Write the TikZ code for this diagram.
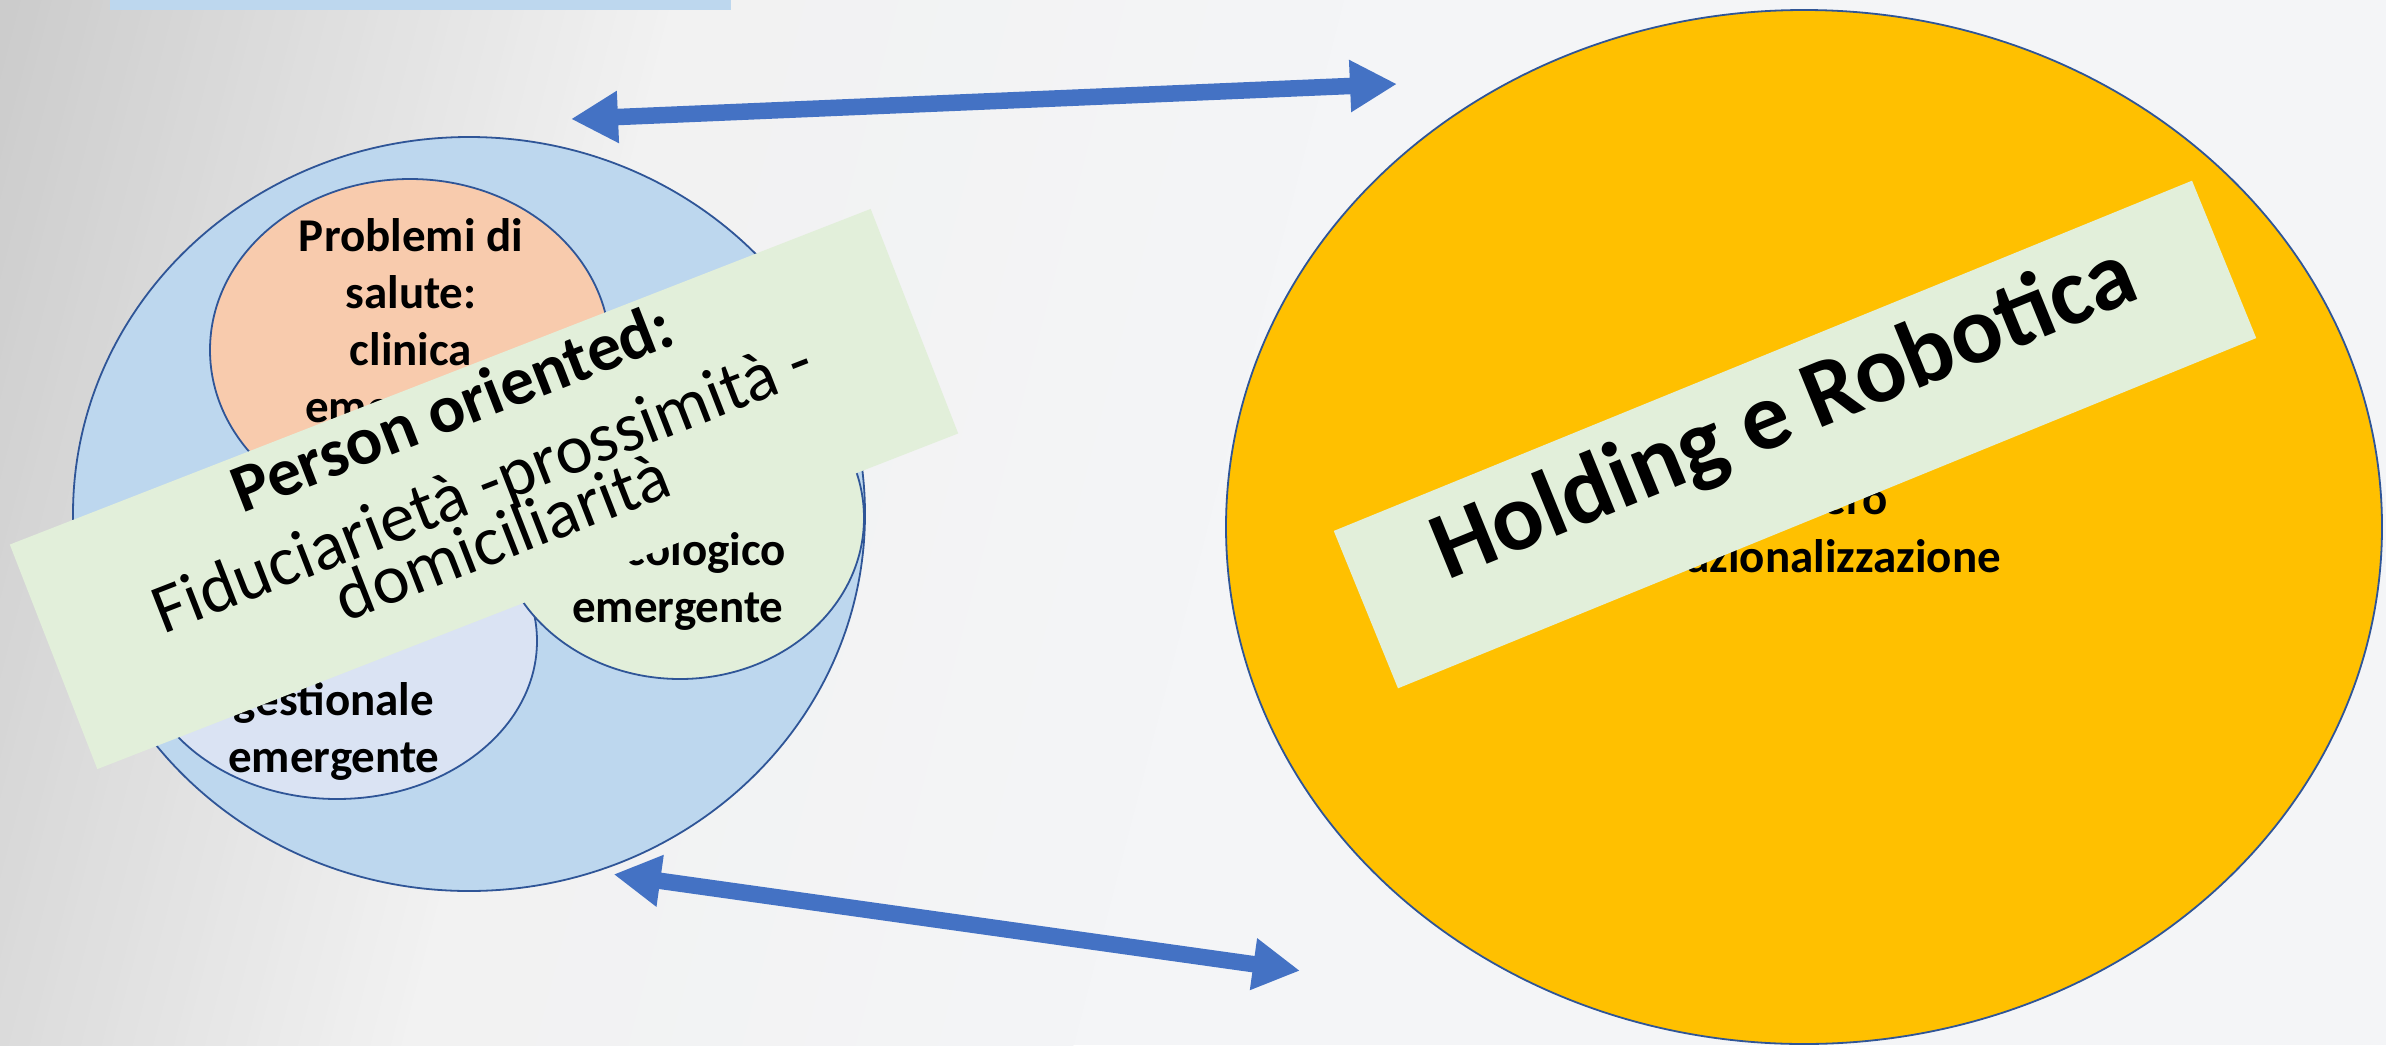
\documentclass[tikz,border=0pt]{standalone}
\usepackage{fontspec}
\setmainfont{Carlito}
\usetikzlibrary{shapes.geometric,arrows.meta}
\definecolor{cblue}{HTML}{BDD7EE}
\definecolor{corange}{HTML}{F8CBAD}
\definecolor{clav}{HTML}{DAE3F3}
\definecolor{cgreen}{HTML}{E2EFDA}
\definecolor{cyellow}{HTML}{FFC000}
\definecolor{edgeblue}{HTML}{2F5597}
\definecolor{arrowblue}{HTML}{4472C4}
\definecolor{bgright}{HTML}{F4F5F7}
\begin{document}
\begin{tikzpicture}[x=1pt,y=-1pt,
  ell/.style={ellipse, draw=edgeblue, line width=1.8pt, inner sep=0pt},
  lbl/.style={font=\fontsize{47}{57}\selectfont\bfseries, anchor=base, inner sep=0pt, text=black},
  banner/.style={fill=cgreen, inner sep=0pt},
  bantext/.style={font=\fontsize{70}{84}\selectfont, anchor=base, inner sep=0pt, rotate=21.3},
  bigarrow/.style={draw=arrowblue, line width=16.5pt,
    {Triangle[length=47pt,width=49pt]}-{Triangle[length=47pt,width=49pt]}}]
\useasboundingbox (0,0) rectangle (2386,1045);
% background
\begin{scope}
\clip (0,0) rectangle (2386,1045);
\fill[bgright] (0,0) rectangle (2386,1045);
\begin{scope}[rotate=-14.5]
\foreach \u in {0,10,...,1290}{
  \ifnum\u<300
    \pgfmathtruncatemacro\cR{204+18*\u/300}\let\cG\cR\let\cB\cR
  \else\ifnum\u<650
    \pgfmathtruncatemacro\cR{222+20*(\u-300)/350}\let\cG\cR\let\cB\cR
  \else
    \pgfmathtruncatemacro\cR{242+2*(\u-650)/650}
    \pgfmathtruncatemacro\cG{242+3*(\u-650)/650}
    \pgfmathtruncatemacro\cB{242+5*(\u-650)/650}
  \fi\fi
  \definecolor{bgstrip}{RGB}{\cR,\cG,\cB}
  \fill[bgstrip] (\u,-700) rectangle ++(11,1800);
}
\end{scope}
\end{scope}
% top bar
\node[fill=cblue, inner sep=0pt, minimum width=621pt, minimum height=10pt, anchor=north west] (topbar) at (109.5,0) {};
% left cluster
\node[ell, fill=cblue, minimum width=792pt, minimum height=754pt] (outer) at (469,514) {};
\node[ell, fill=corange, minimum width=400pt, minimum height=342pt] (salute) at (410,350) {};
\node[lbl] (s1) at (411,251) {Problemi di};
\node[lbl] (s2) at (411,308) {salute:};
\node[lbl] (s3) at (411,365) {clinica};
\node[lbl] (s4) at (411,422) {emergente};
\node[ell, fill=clav, minimum width=400pt, minimum height=316pt] (gest) at (337,641) {};
\node[lbl] (g1) at (334,715) {gestionale};
\node[lbl] (g2) at (334,772) {emergente};
\node[ell, fill=cgreen, minimum width=368pt, minimum height=322pt] (eco) at (680,518) {};
\node[lbl] (e1) at (694,565) {ecologico};
\node[lbl] (e2) at (678,622) {emergente};
% left banner
\node[banner, rotate=21.3, minimum width=924pt, minimum height=241pt] (person) at (484,489) {};
\node[bantext, font=\fontsize{68}{82}\selectfont\bfseries] (p1) at (460.4,428.4) {Person oriented:};
\node[bantext] (p2) at (490.5,506.5) {Fiduciarietà -prossimità -};
\node[bantext] (p3) at (510.5,558.0) {domiciliarità};
% right circle
\node[ell, fill=cyellow, minimum width=1156pt, minimum height=1034pt] (holding) at (1804,527) {};
\node[lbl, anchor=base east] (y1) at (1888,514) {ero};
\node[lbl, anchor=base east] (y2) at (2001,572) {azionalizzazione};
\node[banner, rotate=22.2, minimum width=927pt, minimum height=170pt] (robot) at (1795,434.5) {};
\node[font=\fontsize{96}{115}\selectfont\bfseries, anchor=base, inner sep=0pt, rotate=22.2] (r1) at (1795,439) {Holding e Robotica};
% arrows
\coordinate (ta1) at (571,119);
\coordinate (ta2) at (1397,84);
\coordinate (ba1) at (613.6,874.3);
\coordinate (ba2) at (1300,970.7);
\draw[bigarrow] (ta1) -- (ta2);
\draw[bigarrow] (ba1) -- (ba2);
\end{tikzpicture}
\end{document}
